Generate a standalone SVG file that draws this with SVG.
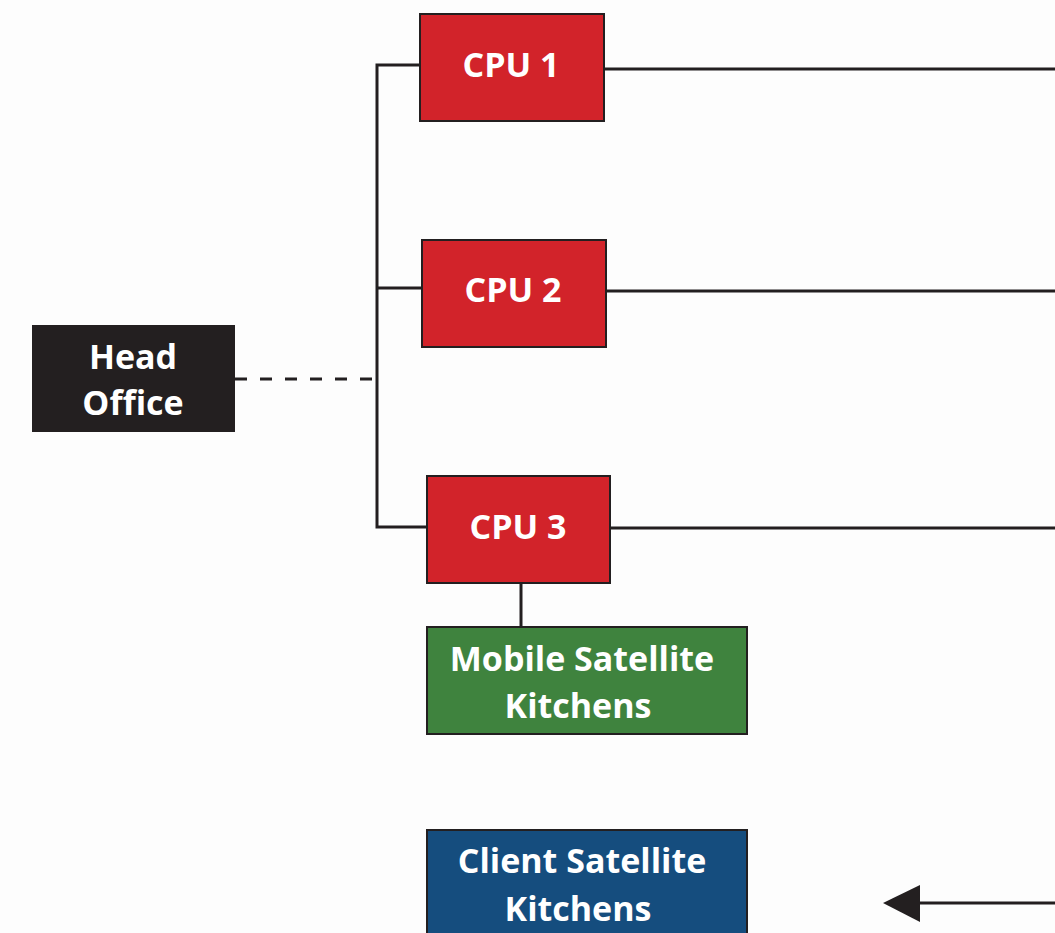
<svg xmlns="http://www.w3.org/2000/svg" width="1055" height="933" viewBox="0 0 1055 933">
<style>
.lbl{font-family:"Open Sans","Liberation Sans",sans-serif;font-weight:700;font-size:34px;fill:#ffffff;text-anchor:middle}
.cpu{fill:#d2232a;stroke:#231f20;stroke-width:2}
.ln{stroke:#231f20;stroke-width:3;fill:none}
</style>
<rect width="1055" height="933" fill="#fdfdfd"/>
<g id="connectors">
<polyline class="ln" points="420,65 377,65 377,527 427,527"/>
<line class="ln" x1="377" y1="288" x2="422" y2="288"/>
<line class="ln" x1="235" y1="379" x2="377" y2="379" stroke-dasharray="12,13"/>
<line class="ln" x1="604" y1="69" x2="1055" y2="69"/>
<line class="ln" x1="606" y1="291" x2="1055" y2="291"/>
<line class="ln" x1="610" y1="528" x2="1055" y2="528"/>
<line class="ln" x1="521" y1="583" x2="521" y2="627"/>
<line class="ln" x1="1055" y1="903" x2="918" y2="903"/>
<path d="M883,903 L920,885 L920,922 Z" fill="#231f20"/>
</g>
<g id="cpu1"><rect class="cpu" x="420" y="14" width="184" height="107"/><text class="lbl" x="511" y="77">CPU 1</text></g>
<g id="cpu2"><rect class="cpu" x="422" y="240" width="184" height="107"/><text class="lbl" x="513" y="302">CPU 2</text></g>
<g id="cpu3"><rect class="cpu" x="427" y="476" width="183" height="107"/><text class="lbl" x="518" y="539">CPU 3</text></g>
<g id="head"><rect x="32" y="325" width="203" height="107" fill="#231f20"/><text class="lbl" x="133" y="369">Head</text><text class="lbl" x="133" y="415">Office</text></g>
<g id="mobile"><rect x="427" y="627" width="320" height="107" fill="#3f833e" stroke="#231f20" stroke-width="2"/><text class="lbl" x="582" y="671">Mobile Satellite</text><text class="lbl" x="578" y="718">Kitchens</text></g>
<g id="client"><rect x="427" y="830" width="320" height="110" fill="#154d7e" stroke="#231f20" stroke-width="2"/><text class="lbl" x="582" y="873">Client Satellite</text><text class="lbl" x="578" y="921">Kitchens</text></g>
</svg>
